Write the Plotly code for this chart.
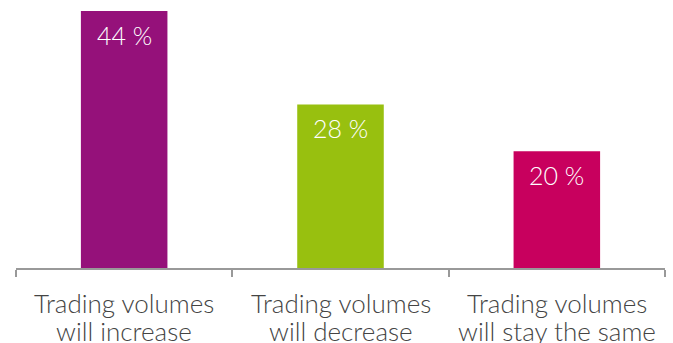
import plotly.graph_objects as go

categories = ["will increase", "will decrease", "will stay the same"]
label_first_line = "Trading volumes"
values = [44, 28, 20]
colors = ["#95117a", "#98c00f", "#c8005e"]

FONT = "Lato"

fig = go.Figure()
fig.add_trace(go.Bar(
    x=categories, y=values,
    marker=dict(color=colors, line=dict(width=0)),
    hoverinfo="skip",
))

# value labels just inside the top of each bar
for c, v in zip(categories, values):
    fig.add_annotation(
        x=c, y=v, text=f"{v} %", showarrow=False,
        yanchor="middle", yshift=-24,
        font=dict(family=FONT, size=25, color="white", weight=300),
    )

# two-line category labels under the axis, set with tight line spacing
for c in categories:
    for text, shift in ((label_first_line, -35), (c, -63)):
        fig.add_annotation(
            x=c, xref="x", y=0, yref="paper", text=text, showarrow=False,
            yanchor="middle", yshift=shift, borderpad=0,
            font=dict(family=FONT, size=26, color="#444444", weight=300),
        )

fig.update_layout(
    width=673, height=343,
    margin=dict(l=16, r=8, t=11, b=75),
    paper_bgcolor="white", plot_bgcolor="white",
    bargap=0.6, showlegend=False,
)
fig.update_xaxes(
    showline=True, linecolor="#999999", linewidth=2,
    ticks="outside", tickson="boundaries", ticklen=7, tickwidth=2, tickcolor="#999999",
    showticklabels=False, showgrid=False,
)
fig.update_yaxes(visible=False, range=[0, 44], showgrid=False)

fig.write_html("out.html")
